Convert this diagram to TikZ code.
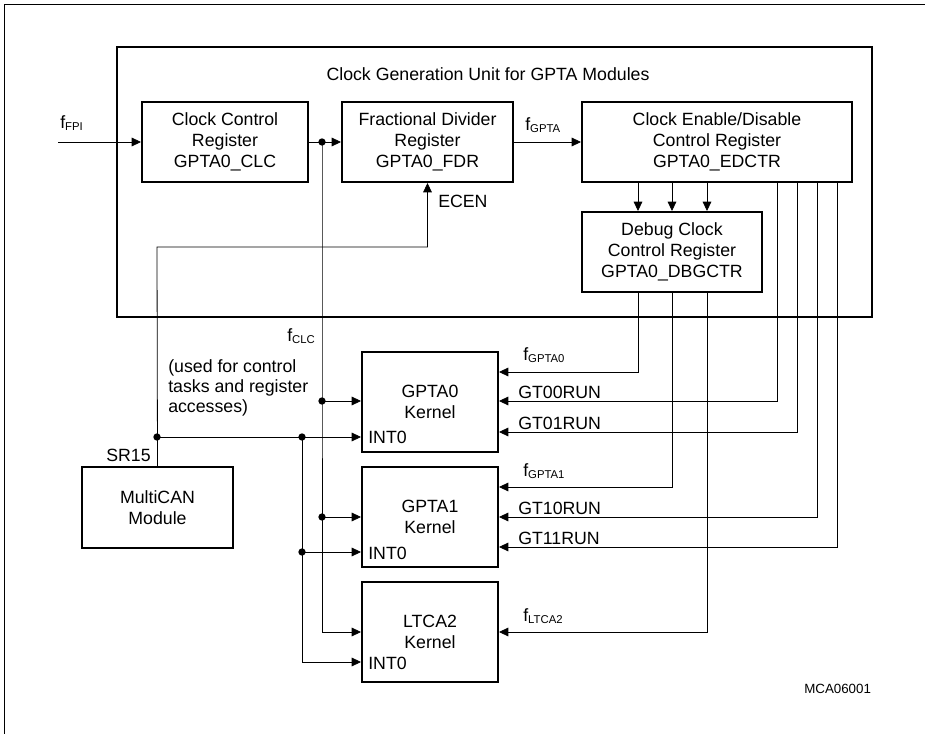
\documentclass[tikz,border=0pt]{standalone}
\usepackage{fontspec}
\setmainfont{Liberation Sans}
\usepackage{tikz}
\usetikzlibrary{arrows.meta,positioning,calc}
\newcommand{\fsig}[1]{f\raisebox{-1.5pt}{\fontsize{8.5}{8.5}\selectfont #1}}

\begin{document}
\begin{tikzpicture}[x=0.75pt,y=-0.75pt,font=\fontsize{13.3}{15.5}\selectfont,
  regbox/.style={draw,line width=1.5pt,align=center,minimum height=60pt,inner sep=2pt},
  kernbox/.style={draw,line width=1.5pt,align=center,minimum width=102pt,minimum height=75pt},
  wire/.style={line width=0.6pt},
  arr/.style={wire,-{Triangle[length=7pt,width=6.5pt]}},
  lbl/.style={anchor=base west,inner sep=0pt},
  dot/.style={circle,fill,inner sep=0pt,minimum size=5.5pt}]
\useasboundingbox (0,0) rectangle (925,734);
\draw[wire] (4,734) -- (4,4) -- (925,4);
% clock generation unit
\draw[line width=1.5pt] (117,47) rectangle (872,317);
\node[lbl,anchor=base] (cgu) at (488,81) {Clock Generation Unit for GPTA Modules};
\node[regbox,minimum width=124.5pt] (clc) at (225,142) {Clock Control\\Register\\GPTA0\_CLC};
\node[regbox,minimum width=128.25pt] (fdr) at (427.5,142) {Fractional Divider\\Register\\GPTA0\_FDR};
\node[regbox,minimum width=202.5pt] (edctr) at (717,142) {Clock Enable/Disable\\Control Register\\GPTA0\_EDCTR};
\node[regbox,minimum width=135pt] (dbg) at (672,252) {Debug Clock\\Control Register\\GPTA0\_DBGCTR};
% kernels
\node[kernbox] (gpta0) at (430,402) {GPTA0\\Kernel};
\node[kernbox] (gpta1) at (430,517) {GPTA1\\Kernel};
\node[kernbox] (ltca2) at (430,632) {LTCA2\\Kernel};
\node[regbox,minimum width=113.25pt,minimum height=60.75pt] (mcan) at (157.5,507.5) {MultiCAN\\Module};
\node[lbl] (int0a) at (368,443) {INT0};
\node[lbl] (int0b) at (368,559) {INT0};
\node[lbl] (int0c) at (368,669) {INT0};
% input clock chain
\coordinate (fpi) at (58,142);
\draw[arr] (fpi) -- (clc.west);
\node[lbl] (lfpi) at (60,129) {\fsig{FPI}};
\draw[arr] (clc.east) -- (fdr.west);
\draw[arr] (fdr.east) -- (edctr.west);
\node[lbl] (lgpta) at (525,131) {\fsig{GPTA}};
\foreach \x in {638,672,707}
  \draw[arr] (edctr.south -| \x,0) -- (dbg.north -| \x,0);
% f_CLC bus
\node[dot] (clkdot) at (322,142) {};
\node[dot] (clkdot0) at (322,401) {};
\node[dot] (clkdot1) at (322,517) {};
\draw[wire] (clkdot.center) -- (clkdot0.center) -- (clkdot1.center);
\draw[arr] (clkdot0.center) -- (gpta0.west |- clkdot0);
\draw[arr] (clkdot1.center) -- (gpta1.west |- clkdot1);
\draw[arr] (clkdot1.center) |- (ltca2.west);
\node[lbl] (lclc) at (287,342) {\fsig{CLC}};
\node[anchor=west,inner sep=0pt,align=left,font=\fontsize{13.3}{15}\selectfont] (used) at (168,388)
  {(used for control\\tasks and register\\accesses)};
% SR15 service request
\coordinate (srcorner) at (157,247);
\draw[arr] (mcan.north) -- (srcorner) -| (fdr.south);
\node[lbl] (lecen) at (438,208) {ECEN};
\node[lbl] (lsr) at (106,461) {SR15};
\node[dot] (srdot) at (157,437) {};
\node[dot] (intdot0) at (302,437) {};
\node[dot] (intdot1) at (302,552) {};
\draw[arr] (srdot.center) -- (gpta0.west |- srdot);
\draw[wire] (intdot0.center) -- (intdot1.center);
\draw[arr] (intdot1.center) -- (gpta1.west |- intdot1);
\draw[arr] (intdot1.center) |- (ltca2.west |- 0,662);
% kernel clocks from debug register
\draw[arr] (dbg.south -| 638,0) |- (gpta0.east |- 0,372);
\node[lbl] (lgpta0) at (523,361) {\fsig{GPTA0}};
\draw[arr] (dbg.south -| 672,0) |- (gpta1.east |- 0,487);
\node[lbl] (lgpta1) at (523,476) {\fsig{GPTA1}};
\draw[arr] (dbg.south -| 707,0) |- (ltca2.east);
\node[lbl] (lltca) at (523,621) {\fsig{LTCA2}};
% run signals
\foreach \x/\y/\k/\t in {777/401/gpta0/GT00RUN,797/432/gpta0/GT01RUN,817/517/gpta1/GT10RUN,837/547/gpta1/GT11RUN}{
  \draw[arr] (edctr.south -| \x,0) |- (\k.east |- 0,\y);
  \node[lbl] (run\t) at (518,\y-3) {\t};
}
\node[lbl,font=\fontsize{10}{12}\selectfont] (figid) at (804,693) {MCA06001};
\end{tikzpicture}
\end{document}
